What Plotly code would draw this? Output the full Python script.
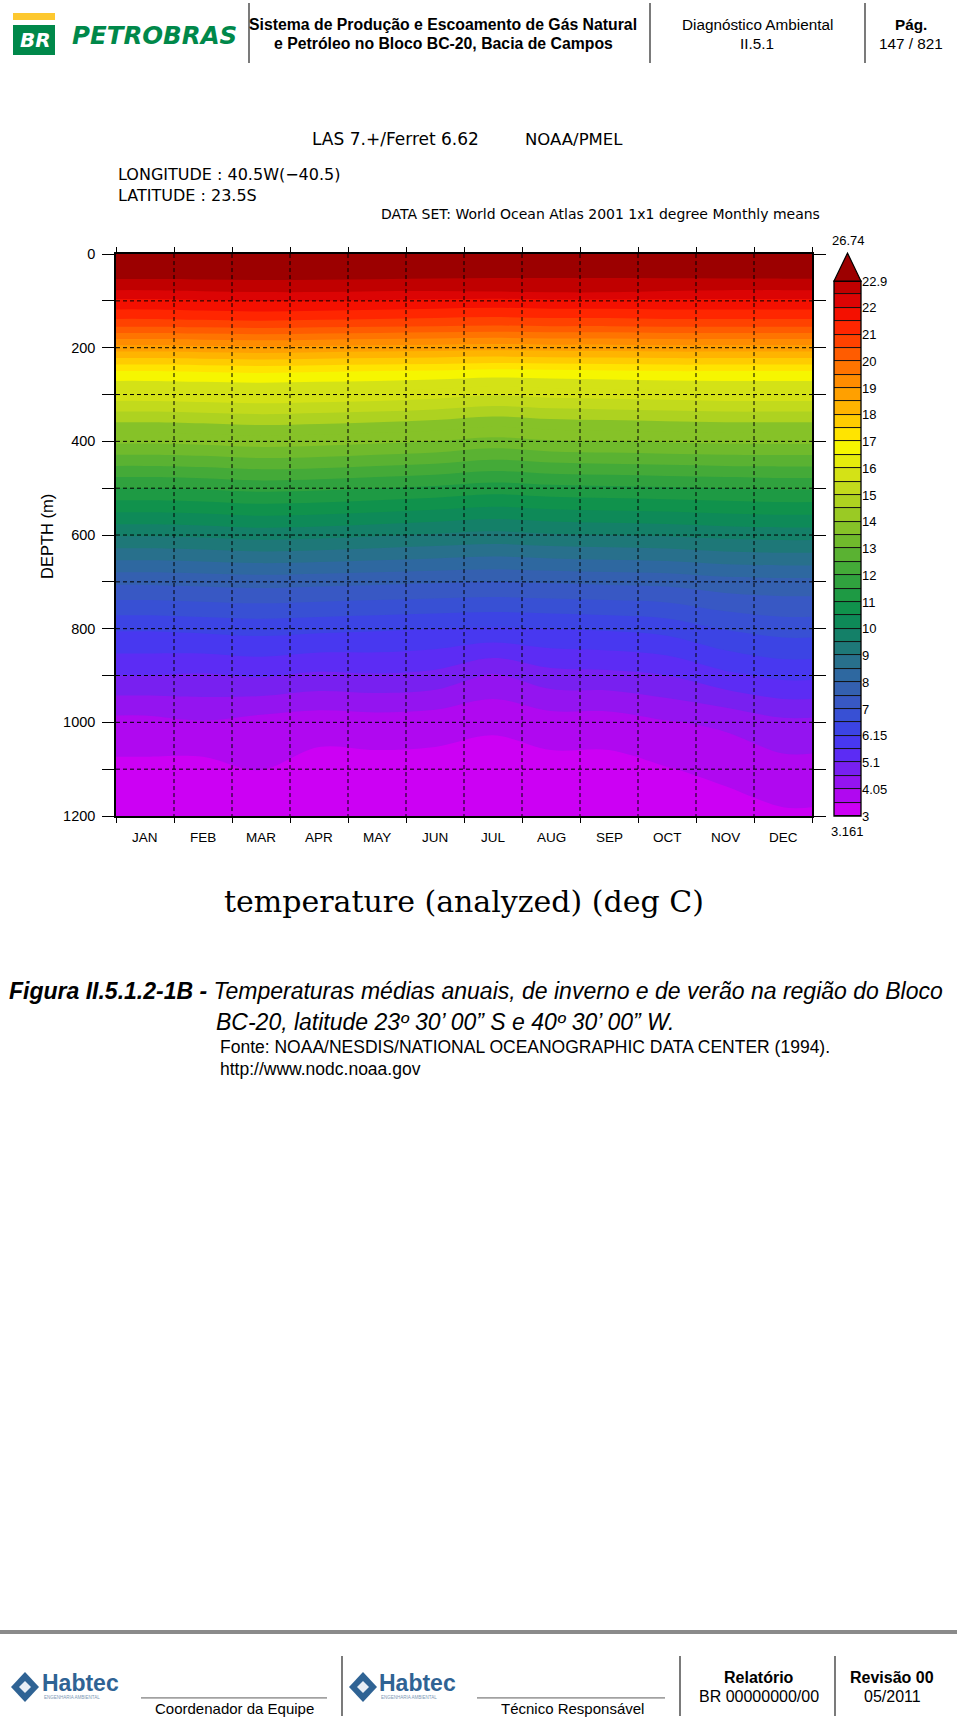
import numpy as np
import plotly.graph_objects as go

W, H = 960, 1720

# ---------------- data ----------------
months = ["JAN", "FEB", "MAR", "APR", "MAY", "JUN", "JUL", "AUG", "SEP", "OCT", "NOV", "DEC"]
month_centers = [0.5, 1.5, 2.5, 3.5, 4.5, 5.5, 6.5, 7.5, 8.5, 9.5, 10.5, 11.5]
month_bounds = [0, 1, 2, 3, 4, 5, 6, 7, 8, 9, 10, 11, 12]
depths = [0, 10, 20, 30, 50, 75, 100, 125, 150, 200, 250, 300, 400, 500, 600, 700, 800, 900, 1000, 1100, 1200]

jan = [25.60, 25.40, 25.10, 24.60, 23.40, 22.50, 21.90, 21.35, 20.70, 18.80, 17.00, 15.80, 13.60, 11.50, 9.55, 7.60, 6.20, 5.10, 3.87, 3.40, 3.22]
feb = [26.50, 26.20, 25.70, 25.00, 23.50, 22.55, 21.95, 21.40, 20.75, 18.85, 17.05, 15.85, 13.65, 11.55, 9.60, 7.65, 6.25, 5.05, 4.01, 3.35, 3.20]
mar = [26.74, 26.40, 25.90, 25.20, 23.60, 22.60, 22.00, 21.45, 20.80, 18.90, 17.10, 15.90, 13.75, 11.65, 9.70, 7.70, 6.30, 5.15, 3.84, 3.55, 3.25]
apr = [25.90, 25.70, 25.40, 24.90, 23.50, 22.60, 22.00, 21.40, 20.75, 18.85, 17.05, 15.85, 13.70, 11.60, 9.65, 7.65, 6.25, 5.00, 3.72, 3.35, 3.18]
may = [24.80, 24.70, 24.60, 24.30, 23.40, 22.55, 21.95, 21.35, 20.70, 18.80, 17.00, 15.80, 13.60, 11.50, 9.55, 7.60, 6.20, 5.05, 3.78, 3.35, 3.19]
jun = [23.90, 23.90, 23.80, 23.70, 23.20, 22.55, 21.90, 21.30, 20.65, 18.75, 16.95, 15.70, 13.50, 11.40, 9.45, 7.55, 6.15, 4.95, 3.72, 3.35, 3.17]
jul = [23.30, 23.30, 23.30, 23.20, 23.05, 22.60, 21.85, 21.25, 20.60, 18.70, 16.85, 15.55, 13.30, 11.25, 9.35, 7.50, 6.10, 4.50, 3.60, 3.33, 3.161]
aug = [23.00, 23.00, 23.00, 23.00, 23.00, 22.65, 21.90, 21.30, 20.65, 18.75, 16.90, 15.65, 13.45, 11.35, 9.45, 7.55, 6.15, 4.90, 3.78, 3.35, 3.18]
sep = [23.10, 23.10, 23.10, 23.00, 23.00, 22.65, 21.90, 21.30, 20.65, 18.75, 16.95, 15.70, 13.50, 11.40, 9.50, 7.60, 6.20, 4.95, 3.78, 3.35, 3.18]
oct_ = [23.60, 23.50, 23.40, 23.30, 23.10, 22.55, 21.90, 21.35, 20.70, 18.80, 17.00, 15.75, 13.55, 11.45, 9.55, 7.65, 6.30, 5.10, 4.01, 3.50, 3.22]
nov = [24.30, 24.20, 24.00, 23.80, 23.20, 22.50, 21.90, 21.35, 20.70, 18.80, 17.00, 15.80, 13.60, 11.50, 9.65, 7.80, 6.60, 5.50, 4.15, 3.65, 3.30]
dec = [25.00, 24.90, 24.60, 24.20, 23.30, 22.50, 21.90, 21.35, 20.70, 18.80, 17.00, 15.80, 13.60, 11.55, 9.70, 7.85, 6.75, 5.75, 4.45, 3.85, 3.45]
monthly = [jan, feb, mar, apr, may, jun, jul, aug, sep, oct_, nov, dec]

# colour levels (Ferret shade levels) and labels
levels = [3, 3.525, 4.05, 4.575, 5.1, 5.625, 6.15, 6.575, 7, 7.5, 8, 8.5, 9, 9.5, 10, 10.5,
          11, 11.5, 12, 12.5, 13, 13.5, 14, 14.5, 15, 15.5, 16, 16.5, 17, 17.5, 18, 18.5,
          19, 19.5, 20, 20.5, 21, 21.5, 22, 22.45, 22.9]
level_labels = ["3", "4.05", "5.1", "6.15", "7", "8", "9", "10", "11", "12", "13", "14", "15",
                "16", "17", "18", "19", "20", "21", "22", "22.9"]
temp_max = 26.74
temp_min = 3.161
box_colors = ["#cc00f4", "#b008f0", "#9414f0", "#7820f0", "#5c2cf4", "#4838f0", "#3c44e4", "#3850d4",
              "#3858c4", "#3460b0", "#2e68a0", "#28708c", "#1e7878", "#148068", "#0e8a58", "#10924c",
              "#1e9a44", "#30a23e", "#44aa38", "#5ab232", "#70ba2c", "#86c228", "#9aca24", "#aed220",
              "#c2da1c", "#d4e216", "#e6ec0c", "#f6f600", "#ffe400", "#ffcc00", "#ffb400", "#ffa000",
              "#ff8c00", "#ff7400", "#ff5c00", "#ff4200", "#ff2600", "#f41000", "#dc0404", "#c00000"]
over_color = "#9c0000"
depth_ticks = [0, 100, 200, 300, 400, 500, 600, 700, 800, 900, 1000, 1100, 1200]
depth_labels = ["0", "", "200", "", "400", "", "600", "", "800", "", "1000", "", "1200"]

# ---------------- helpers ----------------
def PX(x):
    return x / W

def PY(y):
    # small vertical compensation so the photographed page lines up with the reference
    yc = y * 1.0093 - 8
    return 1 - yc / H

nlev = len(levels)          # 41 level values -> 40 boxes
top_idx = nlev              # index of the maximum (over-range end)
idx_levels = list(levels) + [temp_max]
idx_vals = list(range(nlev)) + [top_idx]

# piecewise-constant colour scale over the contour colour domain [-1, 41]
N = top_idx + 1  # 42 segments
cs = [[0.0, box_colors[0]], [1 / N, box_colors[0]]]
for k, c in enumerate(box_colors):
    cs.append([(k + 1) / N, c])
    cs.append([(k + 2) / N, c])
cs.append([(top_idx) / N, over_color])
cs.append([1.0, over_color])

# grid with edge columns (constant extension to the month-axis edges)
xs = [month_bounds[0]] + month_centers + [month_bounds[-1]]
zT = []
for i, d in enumerate(depths):
    row = [monthly[0][i]] + [m[i] for m in monthly] + [monthly[-1][i]]
    zT.append(row)
zT = np.array(zT)
zU = np.interp(zT, idx_levels, idx_vals)

fig = go.Figure()

fig.add_trace(go.Contour(
    x=xs, y=depths, z=zU,
    autocontour=False,
    contours=dict(start=0, end=top_idx, size=1, coloring="fill", showlines=False),
    line=dict(width=0),
    colorscale=cs, showscale=False, hoverinfo="skip",
    xaxis="x", yaxis="y",
))

# colour bar as its own small heatmap
box_centers = [k + 0.5 for k in range(nlev - 1)]
fig.add_trace(go.Heatmap(
    x=[0.5], y=box_centers, z=[[v] for v in box_centers],
    zmin=-1, zmax=top_idx, colorscale=cs, showscale=False,
    ygap=1, hoverinfo="skip", xaxis="x2", yaxis="y2",
))

# ---------------- layout ----------------
plot_l, plot_r, plot_t, plot_b = 116, 812, 254, 816
cb_l, cb_r, cb_t, cb_b = 834, 861, 281, 816

axis_font = dict(family="Liberation Sans, Arial, sans-serif", size=14.5, color="black")

fig.update_layout(
    width=W, height=H, autosize=False,
    margin=dict(l=0, r=0, t=0, b=0),
    paper_bgcolor="white", plot_bgcolor="white",
    showlegend=False,
    xaxis=dict(domain=[PX(plot_l), PX(plot_r)], range=[0, 12], anchor="y",
               showline=True, linecolor="black", linewidth=1.5, mirror="ticks",
               ticks="outside", ticklen=5, tickwidth=1.2, tickcolor="black",
               tickvals=month_bounds, ticktext=[""] * len(month_bounds),
               showgrid=False, zeroline=False, fixedrange=True),
    yaxis=dict(domain=[PY(plot_b), PY(plot_t)], range=[1200, 0], anchor="x",
               showline=True, linecolor="black", linewidth=1.5, mirror="ticks",
               ticks="outside", ticklen=12, tickwidth=1.2, tickcolor="black",
               tickvals=depth_ticks, ticktext=depth_labels, tickfont=axis_font,
               ticklabelstandoff=4,
               showgrid=False, zeroline=False, fixedrange=True),
    xaxis2=dict(domain=[PX(cb_l), PX(cb_r)], range=[0, 1], anchor="y2",
                visible=False, fixedrange=True),
    yaxis2=dict(domain=[PY(cb_b), PY(cb_t)], range=[0, nlev - 1], anchor="x2", side="right",
                tickvals=[0, 2, 4, 6, 8, 10, 12, 14, 16, 18, 20, 22, 24, 26, 28, 30, 32, 34, 36, 38, 40],
                ticktext=level_labels, ticks="", showline=False, showgrid=False, zeroline=False,
                tickfont=dict(family="Liberation Sans, Arial, sans-serif", size=13, color="black"),
                fixedrange=True),
)

shapes = []
grid_line = dict(color="black", width=1, dash="4px,3px")
for b in month_bounds[1:-1]:
    shapes.append(dict(type="line", xref="x", yref="y", x0=b, x1=b, y0=0, y1=1200,
                       line=grid_line, layer="above"))
for d in depth_ticks[1:-1]:
    shapes.append(dict(type="line", xref="x", yref="y", x0=0, x1=12, y0=d, y1=d,
                       line=grid_line, layer="above"))

# colour bar background (separator lines) and outline
shapes.append(dict(type="rect", xref="x2 domain", yref="y2 domain", x0=0, x1=1, y0=0, y1=1,
                   fillcolor="#111111", line=dict(width=0), layer="below"))
shapes.append(dict(type="rect", xref="x2 domain", yref="y2 domain", x0=0, x1=1, y0=0, y1=1,
                   fillcolor="rgba(0,0,0,0)", line=dict(color="black", width=1.3), layer="above"))
# over-range triangle
shapes.append(dict(type="path", xref="paper", yref="paper",
                   path=f"M {PX(cb_l)},{PY(cb_t)} L {PX((cb_l + cb_r) / 2)},{PY(253)} L {PX(cb_r)},{PY(cb_t)} Z",
                   fillcolor=over_color, line=dict(color="black", width=1.2), layer="above"))

# header decorations
for xsep in [249, 650, 865]:
    shapes.append(dict(type="line", xref="paper", yref="paper", x0=PX(xsep), x1=PX(xsep),
                       y0=PY(3), y1=PY(63), line=dict(color="#222222", width=1.2)))
# Petrobras logo
shapes.append(dict(type="rect", xref="paper", yref="paper", x0=PX(13), x1=PX(55), y0=PY(20), y1=PY(13),
                   fillcolor="#fdc82f", line=dict(width=0)))
shapes.append(dict(type="rect", xref="paper", yref="paper", x0=PX(13), x1=PX(55), y0=PY(55), y1=PY(25),
                   fillcolor="#00884a", line=dict(width=0)))

# footer decorations
shapes.append(dict(type="rect", xref="paper", yref="paper", x0=PX(0), x1=PX(957), y0=PY(1634), y1=PY(1630),
                   fillcolor="#8a8a8a", line=dict(width=0)))
for xsep in [342, 680, 835]:
    shapes.append(dict(type="line", xref="paper", yref="paper", x0=PX(xsep), x1=PX(xsep),
                       y0=PY(1656), y1=PY(1716), line=dict(color="#222222", width=1.2)))
for (x0, x1) in [(141, 327), (477, 665)]:
    shapes.append(dict(type="line", xref="paper", yref="paper", x0=PX(x0), x1=PX(x1),
                       y0=PY(1698), y1=PY(1698), line=dict(color="#333333", width=0.8)))
# Habtec icons (diamond with white centre)
for cx in [25, 363]:
    cy = 1687
    shapes.append(dict(type="path", xref="paper", yref="paper",
                       path=f"M {PX(cx - 14)},{PY(cy)} L {PX(cx)},{PY(cy - 15)} L {PX(cx + 14)},{PY(cy)} L {PX(cx)},{PY(cy + 15)} Z",
                       fillcolor="#2f6394", line=dict(width=0)))
    shapes.append(dict(type="path", xref="paper", yref="paper",
                       path=f"M {PX(cx - 6)},{PY(cy)} L {PX(cx)},{PY(cy - 6)} L {PX(cx + 6)},{PY(cy)} L {PX(cx)},{PY(cy + 6)} Z",
                       fillcolor="#e8eef5", line=dict(width=0)))

fig.update_layout(shapes=shapes)

ann = []

def text(x, y, s, size, family="Liberation Sans, Arial, sans-serif", color="black",
         xanchor="center", yanchor="middle", textangle=0):
    ann.append(dict(x=PX(x), y=PY(y), xref="paper", yref="paper", text=s, showarrow=False,
                    xanchor=xanchor, yanchor=yanchor, textangle=textangle, borderpad=0,
                    font=dict(family=family, size=size, color=color)))

# month labels through the x axis
for m, c in zip(months, month_centers):
    ann.append(dict(x=c, y=PY(837), xref="x", yref="paper", text=m, showarrow=False,
                    xanchor="center", yanchor="middle",
                    font=dict(family="Liberation Sans, Arial, sans-serif", size=13.5, color="black")))

text(47, 537, "DEPTH (m)", 16.5, textangle=-90)

ferret = "DejaVu Sans, sans-serif"
text(311, 139, "LAS 7.+/Ferret 6.62", 17, family=ferret, xanchor="left")
text(524, 139, "NOAA/PMEL", 16.5, family=ferret, xanchor="left")
text(117, 174, "LONGITUDE : 40.5W(\u221240.5)", 16, family=ferret, xanchor="left")
text(117, 195, "LATITUDE : 23.5S", 16, family=ferret, xanchor="left")
text(380, 214, "DATA SET: World Ocean Atlas 2001 1x1 degree Monthly means", 14, family=ferret, xanchor="left")
text(848, 240, f"{temp_max}", 13)
text(847, 831, f"{temp_min}", 13)
text(464, 902, "temperature (analyzed) (deg C)", 30, family="DejaVu Serif, serif")

# header
text(35, 40, "<b><i>BR</i></b>", 20, family="DejaVu Sans, sans-serif", color="white")
text(154, 35, "<b><i>PETROBRAS</i></b>", 24.5, family="DejaVu Sans, sans-serif", color="#00884a")
text(443, 24, "<b>Sistema de Produção e Escoamento de Gás Natural</b>", 15.8)
text(443, 43, "<b>e Petróleo no Bloco BC-20, Bacia de Campos</b>", 15.8)
text(757, 24, "Diagnóstico Ambiental", 15.3)
text(757, 43, "II.5.1", 15.3)
text(911, 24, "<b>Pág.</b>", 15.3)
text(911, 43, "147 / 821", 15.3)

# caption
cap = "Liberation Sans, Arial, sans-serif"
text(8, 991, "<b><i>Figura II.5.1.2-1B - </i></b><i>Temperaturas médias anuais, de inverno e de verão na região do Bloco</i>",
     23, family=cap, xanchor="left")
text(215, 1022, "<i>BC-20, latitude 23º 30’ 00” S e 40º 30’ 00” W.</i>", 23, family=cap, xanchor="left")
text(219, 1047, "Fonte: NOAA/NESDIS/NATIONAL OCEANOGRAPHIC DATA CENTER (1994).", 17.5, family=cap, xanchor="left")
text(219, 1069, "http://www.nodc.noaa.gov", 17.5, family=cap, xanchor="left")

# footer
for lx in [41, 378]:
    text(lx, 1683, "<b>Habtec</b>", 23, color="#2f6394", xanchor="left")
    text(lx + 2, 1698, "ENGENHARIA AMBIENTAL", 4.5, color="#7b98b5", xanchor="left")
text(234, 1709, "Coordenador da Equipe", 15)
text(572, 1709, "Técnico Responsável", 15)
text(759, 1678, "<b>Relatório</b>", 16)
text(759, 1697, "BR 00000000/00", 16)
text(892, 1678, "<b>Revisão 00</b>", 16)
text(892, 1697, "05/2011", 16)

fig.update_layout(annotations=ann)

fig.write_html("out.html", config={"displayModeBar": False},
               post_script="document.body.style.margin='0px';document.body.style.overflow='hidden';")
